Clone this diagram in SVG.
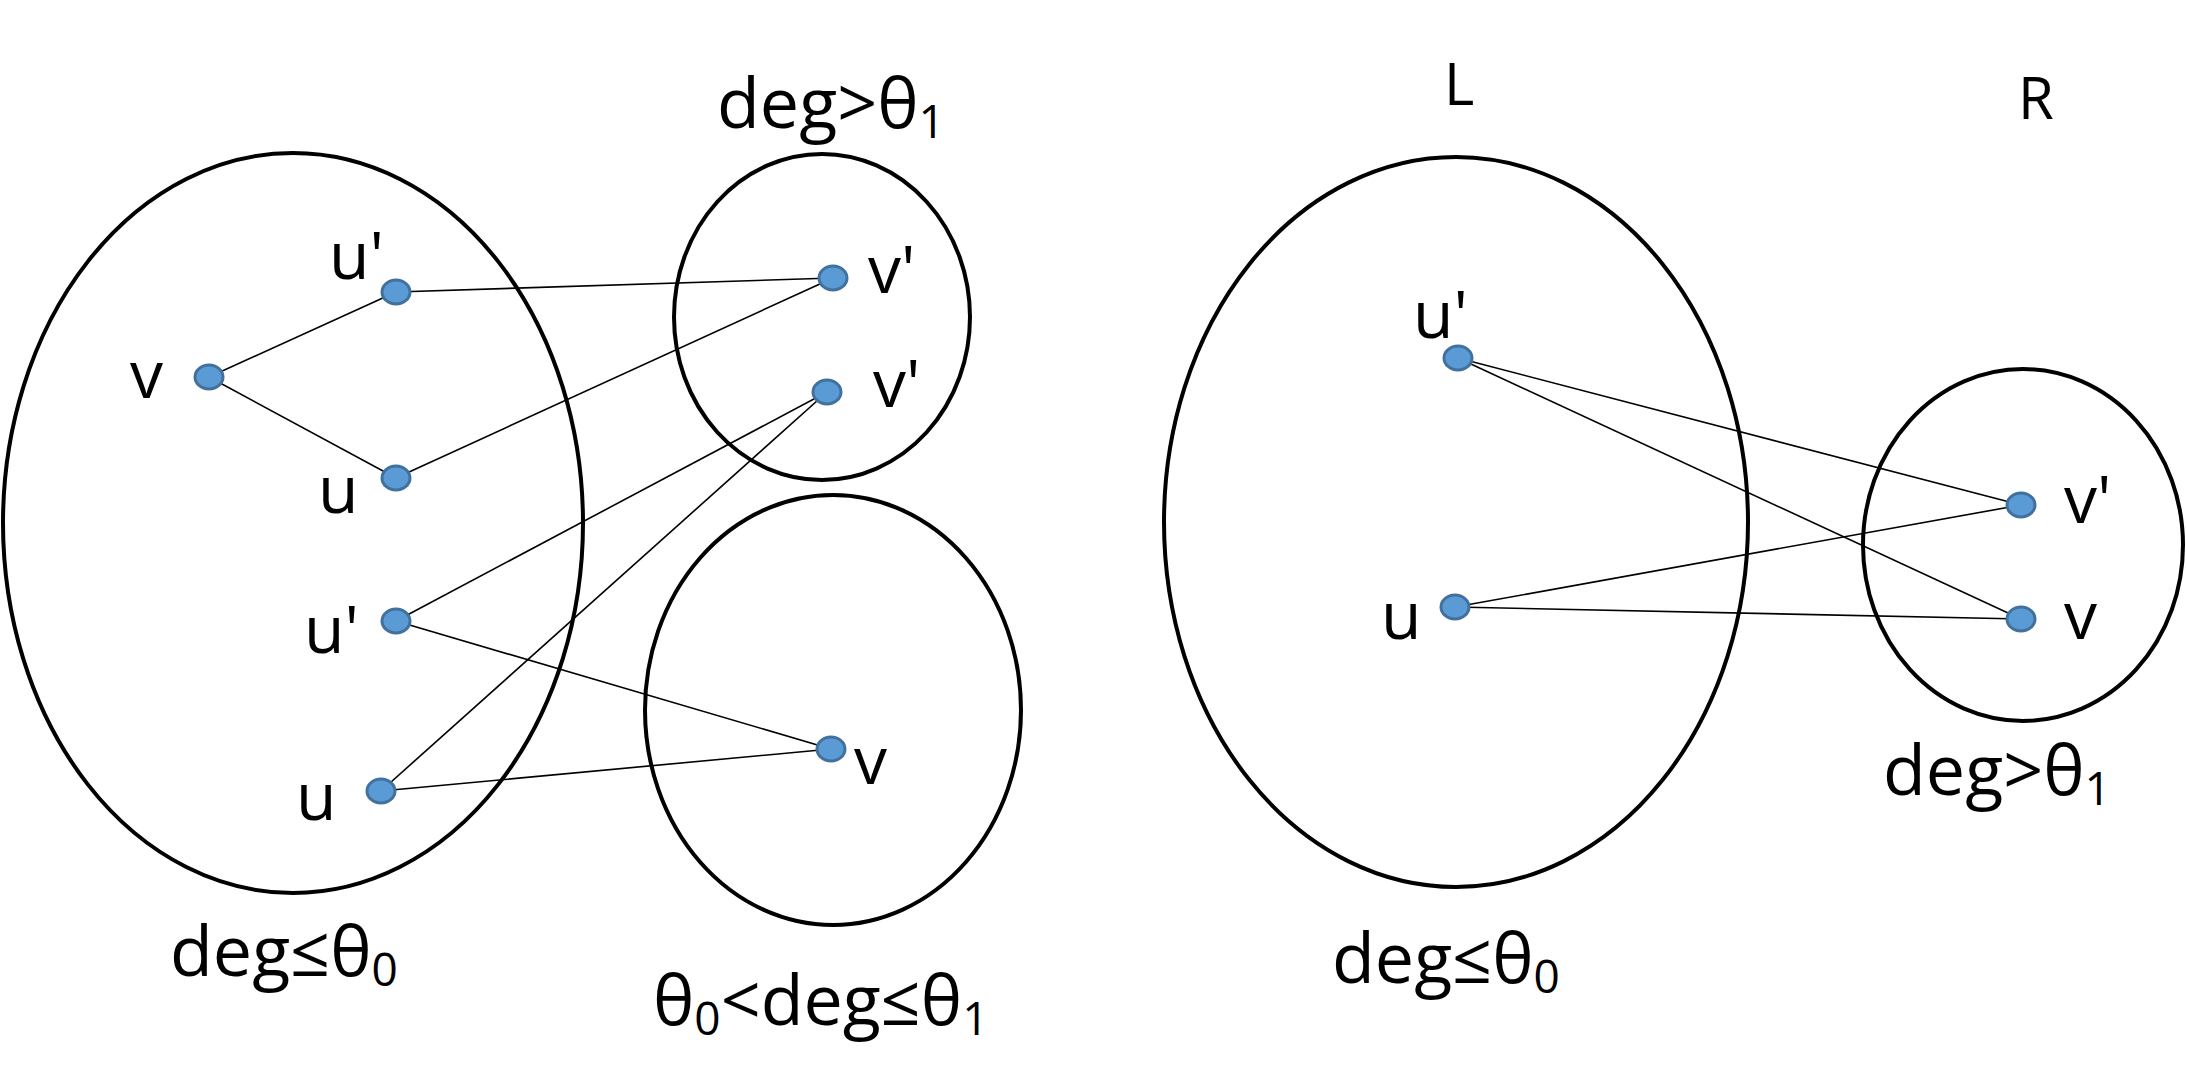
<svg xmlns="http://www.w3.org/2000/svg" width="2187" height="1084" viewBox="0 0 2187 1084">
<style>
.set{fill:none;stroke:#000;stroke-width:4}
.nd{fill:#5b9bd5;stroke:#41719c;stroke-width:3}
.e{stroke:#000;stroke-width:1.6}
text{font-family:"Open Sans","Liberation Sans",sans-serif;fill:#000}
.l{font-size:66px}
.g{font-size:70px}
.s{font-size:58px}
</style>
<rect width="2187" height="1084" fill="#fff"/>
<g id="sets">
<ellipse id="setA" class="set" cx="293" cy="523" rx="290" ry="370"/>
<ellipse id="setB" class="set" cx="822" cy="317" rx="148" ry="163"/>
<ellipse id="setC" class="set" cx="833" cy="710" rx="188" ry="215"/>
<ellipse id="setL" class="set" cx="1456" cy="522" rx="292" ry="365"/>
<ellipse id="setR" class="set" cx="2023" cy="545" rx="160" ry="176"/>
</g>
<g id="connectors">
<line class="e" x1="396" y1="292" x2="833" y2="278"/>
<line class="e" x1="209" y1="377" x2="396" y2="292"/>
<line class="e" x1="209" y1="377" x2="396" y2="478"/>
<line class="e" x1="396" y1="478" x2="833" y2="278"/>
<line class="e" x1="396" y1="621" x2="827" y2="392"/>
<line class="e" x1="381" y1="791" x2="827" y2="392"/>
<line class="e" x1="396" y1="621" x2="831" y2="749"/>
<line class="e" x1="381" y1="791" x2="831" y2="749"/>
<line class="e" x1="1458" y1="358" x2="2021" y2="505"/>
<line class="e" x1="1458" y1="358" x2="2021" y2="619"/>
<line class="e" x1="1455" y1="607" x2="2021" y2="505"/>
<line class="e" x1="1455" y1="607" x2="2021" y2="619"/>
</g>
<g id="n1"><ellipse class="nd" cx="396" cy="292" rx="14" ry="12"/><text class="l" x="329" y="279">u'</text></g>
<g id="n2"><ellipse class="nd" cx="209" cy="377" rx="14" ry="12"/><text class="l" x="130" y="398">v</text></g>
<g id="n3"><ellipse class="nd" cx="396" cy="478" rx="14" ry="12"/><text class="l" x="318" y="513">u</text></g>
<g id="n4"><ellipse class="nd" cx="396" cy="621" rx="14" ry="12"/><text class="l" x="304" y="653">u'</text></g>
<g id="n5"><ellipse class="nd" cx="381" cy="791" rx="14" ry="12"/><text class="l" x="296" y="820">u</text></g>
<g id="n6"><ellipse class="nd" cx="833" cy="278" rx="14" ry="12"/><text class="l" x="868" y="293">v'</text></g>
<g id="n7"><ellipse class="nd" cx="827" cy="392" rx="14" ry="12"/><text class="l" x="873" y="407">v'</text></g>
<g id="n8"><ellipse class="nd" cx="831" cy="749" rx="14" ry="12"/><text class="l" x="854" y="784">v</text></g>
<g id="n9"><ellipse class="nd" cx="1458" cy="358" rx="14" ry="12"/><text class="l" x="1413" y="338">u'</text></g>
<g id="n10"><ellipse class="nd" cx="1455" cy="607" rx="14" ry="12"/><text class="l" x="1381" y="639">u</text></g>
<g id="n11"><ellipse class="nd" cx="2021" cy="505" rx="14" ry="12"/><text class="l" x="2064" y="523">v'</text></g>
<g id="n12"><ellipse class="nd" cx="2021" cy="619" rx="14" ry="12"/><text class="l" x="2064" y="639">v</text></g>
<g id="labels">
<text class="g" x="717" y="128">deg&gt;θ<tspan font-size="46" dy="10">1</tspan></text>
<text class="g" x="170" y="976">deg≤θ<tspan font-size="46" dy="10">0</tspan></text>
<text class="g" x="653" y="1025">θ<tspan font-size="46" dy="10">0</tspan><tspan dy="-10">&lt;deg≤θ</tspan><tspan font-size="46" dy="10">1</tspan></text>
<text class="g" x="1883" y="795">deg&gt;θ<tspan font-size="46" dy="10">1</tspan></text>
<text class="g" x="1332" y="983">deg≤θ<tspan font-size="46" dy="10">0</tspan></text>
<text class="s" x="1444" y="105">L</text>
<text class="s" x="2018" y="119">R</text>
</g>
</svg>
